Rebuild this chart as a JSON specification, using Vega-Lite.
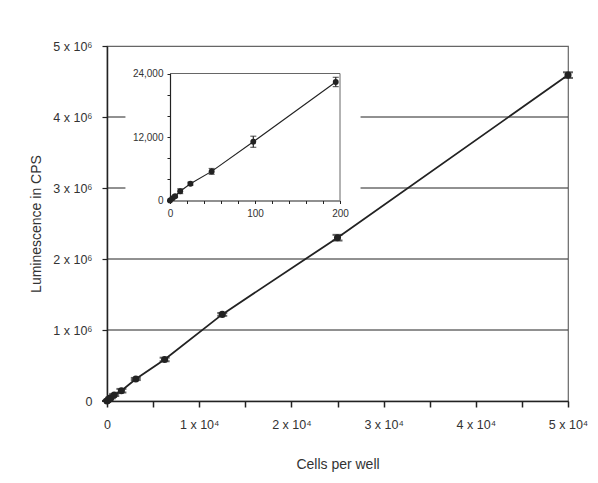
{
  "$schema": "https://vega.github.io/schema/vega-lite/v6.json",
  "width": 461,
  "height": 355,
  "autosize": {"type": "none"},
  "padding": {"left": 107, "top": 46, "right": 30, "bottom": 82},
  "background": "white",
  "config": {
    "font": "Liberation Sans",
    "view": {"stroke": "#666", "strokeWidth": 1.2},
    "axis": {"labelColor": "#333", "titleColor": "#333", "domainColor": "#222", "tickColor": "#222", "grid": false, "labelOverlap": false, "labelFlush": false, "labelBound": false, "titleFontWeight": "normal"}
  },
  "datasets": {
    "main": [
      {"cells": 0, "cps": 0, "err": 0},
      {"cells": 98, "cps": 11100, "err": 1000},
      {"cells": 195, "cps": 22400, "err": 1000},
      {"cells": 390, "cps": 45000, "err": 8000},
      {"cells": 781, "cps": 85000, "err": 15000},
      {"cells": 1562, "cps": 145000, "err": 25000},
      {"cells": 3125, "cps": 310000, "err": 15000},
      {"cells": 6250, "cps": 585000, "err": 25000},
      {"cells": 12500, "cps": 1220000, "err": 20000},
      {"cells": 25000, "cps": 2300000, "err": 40000},
      {"cells": 50000, "cps": 4590000, "err": 40000}
    ],
    "inset": [
      {"cells": 0, "cps": 0, "err": 0},
      {"cells": 3, "cps": 420, "err": 150},
      {"cells": 6, "cps": 820, "err": 250},
      {"cells": 12, "cps": 1760, "err": 450},
      {"cells": 24, "cps": 3170, "err": 300},
      {"cells": 49, "cps": 5500, "err": 550},
      {"cells": 98, "cps": 11100, "err": 1050},
      {"cells": 195, "cps": 22400, "err": 880}
    ],
    "grid": [
      {"level": 1000000, "from": 0, "to": 50000},
      {"level": 2000000, "from": 0, "to": 50000},
      {"level": 3000000, "from": 0, "to": 2000},
      {"level": 3000000, "from": 27500, "to": 50000},
      {"level": 4000000, "from": 0, "to": 2000},
      {"level": 4000000, "from": 27500, "to": 50000}
    ],
    "frame": [
      {"x1": 0, "x2": 200, "y1": 24000, "y2": 24000},
      {"x1": 200, "x2": 200, "y1": 0, "y2": 24000}
    ]
  },
  "layer": [
    {
      "layer": [
        {
          "data": {"name": "main"},
          "mark": {"type": "line", "color": "#222", "strokeWidth": 1.8},
          "encoding": {
            "x": {"field": "cells", "type": "quantitative", "title": "Cells per well",
              "scale": {"domain": [0, 50000], "nice": false},
              "axis": {"orient": "bottom", "values": [0, 5000, 10000, 15000, 20000, 25000, 30000, 35000, 40000, 45000, 50000],
                "labelExpr": "datum.value == 0 ? '0' : (datum.value % 10000 == 0 ? (datum.value / 10000) + ' x 10⁴' : '')",
                "labelFontSize": 12.5, "tickSize": 6, "tickWidth": 1.5, "domainWidth": 1.5, "labelPadding": 11,
                "titleFontSize": 14, "titlePadding": 27}},
            "y": {"field": "cps", "type": "quantitative", "title": "Luminescence in CPS",
              "scale": {"domain": [0, 5000000], "nice": false},
              "axis": {"orient": "left", "values": [0, 1000000, 2000000, 3000000, 4000000, 5000000],
                "labelExpr": "datum.value == 0 ? '0' : (datum.value / 1000000) + ' x 10⁶'",
                "labelFontSize": 12.5, "tickSize": 5, "tickWidth": 1.2, "domainWidth": 1.5, "labelPadding": 10,
                "titleFontSize": 14, "titlePadding": 9}}
          }
        },
        {
          "data": {"name": "grid"},
          "mark": {"type": "rule", "color": "#222", "strokeWidth": 1},
          "encoding": {
            "x": {"field": "from", "type": "quantitative", "title": "Cells per well"},
            "x2": {"field": "to"},
            "y": {"field": "level", "type": "quantitative", "title": "Luminescence in CPS"}
          }
        },
        {
          "data": {"name": "main"},
          "mark": {"type": "errorbar", "ticks": {"size": 10, "thickness": 2, "color": "#222"}, "rule": {"color": "#222", "strokeWidth": 2}},
          "encoding": {
            "x": {"field": "cells", "type": "quantitative", "title": "Cells per well"},
            "y": {"field": "cps", "type": "quantitative", "title": "Luminescence in CPS"},
            "yError": {"field": "err"}
          }
        },
        {
          "data": {"name": "main"},
          "mark": {"type": "point", "filled": true, "shape": "circle", "size": 50, "color": "#222", "opacity": 1},
          "encoding": {
            "x": {"field": "cells", "type": "quantitative", "title": "Cells per well"},
            "y": {"field": "cps", "type": "quantitative", "title": "Luminescence in CPS"}
          }
        }
      ]
    },
    {
      "layer": [
        {
          "data": {"name": "inset"},
          "mark": {"type": "line", "color": "#222", "strokeWidth": 1.1},
          "encoding": {
            "x": {"field": "cells", "type": "quantitative", "title": null,
              "scale": {"domain": [0, 200], "range": [63, 233], "nice": false},
              "axis": {"orient": "bottom", "offset": -200.5, "values": [0, 20, 40, 60, 80, 100, 120, 140, 160, 180, 200],
                "labelExpr": "datum.value % 100 == 0 ? datum.value : ''",
                "labelFontSize": 10, "tickSize": 3, "labelPadding": 5, "domainWidth": 1.2}},
            "y": {"field": "cps", "type": "quantitative", "title": null,
              "scale": {"domain": [0, 24000], "range": [154.5, 27.5], "nice": false},
              "axis": {"orient": "left", "offset": -63, "values": [0, 4000, 8000, 12000, 16000, 20000, 24000],
                "labelExpr": "datum.value % 12000 == 0 ? format(datum.value, ',') : ''",
                "labelFontSize": 10, "tickSize": 3, "labelPadding": 4, "domainWidth": 1.2}}
          }
        },
        {
          "data": {"name": "frame"},
          "mark": {"type": "rule", "color": "#666", "strokeWidth": 1},
          "encoding": {
            "x": {"field": "x1", "type": "quantitative", "title": null},
            "x2": {"field": "x2"},
            "y": {"field": "y1", "type": "quantitative", "title": null},
            "y2": {"field": "y2"}
          }
        },
        {
          "data": {"name": "inset"},
          "mark": {"type": "errorbar", "ticks": {"size": 6, "thickness": 1.2, "color": "#222"}, "rule": {"color": "#222", "strokeWidth": 1.2}},
          "encoding": {
            "x": {"field": "cells", "type": "quantitative", "title": null},
            "y": {"field": "cps", "type": "quantitative", "title": null},
            "yError": {"field": "err"}
          }
        },
        {
          "data": {"name": "inset"},
          "mark": {"type": "point", "filled": true, "shape": "circle", "size": 35, "color": "#222", "opacity": 1},
          "encoding": {
            "x": {"field": "cells", "type": "quantitative", "title": null},
            "y": {"field": "cps", "type": "quantitative", "title": null}
          }
        }
      ]
    }
  ],
  "resolve": {"scale": {"x": "independent", "y": "independent"}, "axis": {"x": "independent", "y": "independent"}}
}
